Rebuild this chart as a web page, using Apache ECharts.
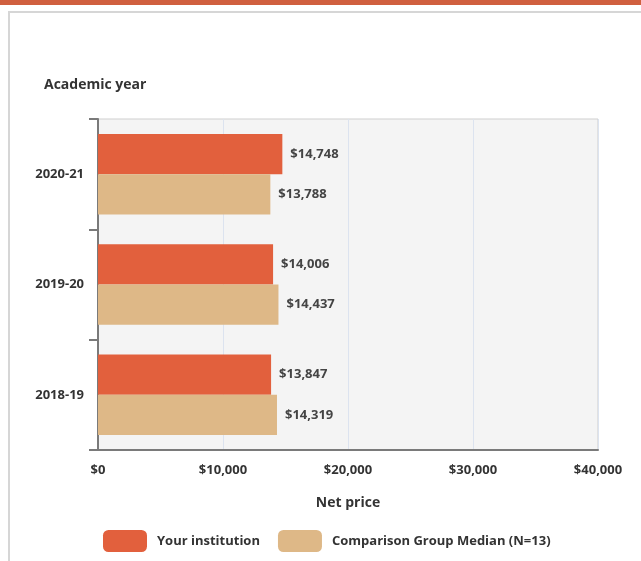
<!doctype html>
<html>
<head>
    <meta charset="utf-8">
    <title>Net price</title>
    <script src="https://cdn.jsdelivr.net/npm/echarts@6/dist/echarts.min.js"></script>
    <style>
        html, body { margin: 0; padding: 0; background: #fff; }
        #container { width: 641px; height: 561px; }
    </style>
</head>
<body>
    <div id="container"></div>
    <script type="text/javascript">
        // 数据
        var years = ['2020-21', '2019-20', '2018-19'];
        var yourInstitution = [14748, 14006, 13847];
        var comparisonMedian = [13788, 14437, 14319];
        var xTicks = [0, 10000, 20000, 30000, 40000];

        var font = '"Open Sans", Lato, sans-serif';

        function money(v) {
            return '$' + Number(v).toLocaleString('en-US');
        }

        var labelStyle = {
            show: true,
            position: 'right',
            distance: 8,
            fontFamily: font,
            fontWeight: 'bold',
            fontSize: 13,
            color: '#444',
            formatter: function (p) { return money(p.value); }
        };

        var option = {
            animation: false,
            backgroundColor: '#fff',
            graphic: [
                // top orange band
                { type: 'rect', shape: { x: 0, y: 0, width: 641, height: 5 }, style: { fill: '#d0603f' } },
                // card border
                { type: 'polyline', shape: { points: [[9, 561], [9, 12], [641, 12]] }, style: { stroke: '#d6d6d6', lineWidth: 2, fill: null } }
            ],
            title: {
                text: 'Academic year',
                left: 39,
                top: 73,
                textStyle: { fontFamily: font, fontWeight: 'bold', fontSize: 14, color: '#333' }
            },
            legend: {
                left: 98,
                top: 525,
                itemWidth: 44,
                itemHeight: 22,
                itemGap: 18,
                icon: 'roundRect',
                textStyle: { fontFamily: font, fontWeight: 'bold', fontSize: 13, color: '#333', padding: [0, 0, 0, 5] },
                data: ['Your institution', 'Comparison Group Median (N=13)']
            },
            grid: {
                left: 98,
                top: 119,
                width: 500,
                height: 331,
                show: true,
                backgroundColor: '#f4f4f4',
                borderColor: '#cfcfcf',
                borderWidth: 1
            },
            xAxis: {
                type: 'value',
                min: xTicks[0],
                max: xTicks[xTicks.length - 1],
                interval: xTicks[1] - xTicks[0],
                name: 'Net price',
                nameLocation: 'middle',
                nameGap: 46,
                nameTextStyle: { fontFamily: font, fontWeight: 'bold', fontSize: 14, color: '#333' },
                axisLine: { show: true, lineStyle: { color: '#7a7a7a', width: 2 } },
                axisTick: { show: false },
                splitLine: { show: true, lineStyle: { color: '#dce3ef', width: 1 } },
                axisLabel: {
                    margin: 14,
                    fontFamily: font,
                    fontWeight: 'bold',
                    fontSize: 13,
                    color: '#333',
                    formatter: money
                }
            },
            yAxis: {
                type: 'category',
                inverse: true,
                data: years,
                axisLine: { show: true, lineStyle: { color: '#7a7a7a', width: 2 } },
                axisTick: { show: true, length: 9, lineStyle: { color: '#7a7a7a', width: 2 } },
                axisLabel: {
                    margin: 14,
                    fontFamily: font,
                    fontWeight: 'bold',
                    fontSize: 13,
                    color: '#333'
                }
            },
            series: [{
                name: 'Your institution',
                type: 'bar',
                barGap: '0%',
                barCategoryGap: '27%',
                itemStyle: { color: '#e2603d' },
                label: labelStyle,
                data: yourInstitution
            }, {
                name: 'Comparison Group Median (N=13)',
                type: 'bar',
                itemStyle: { color: '#deb887' },
                label: labelStyle,
                data: comparisonMedian
            }]
        };

        var myChart = echarts.init(document.getElementById('container'));
        myChart.setOption(option);
    </script>
</body>
</html>
